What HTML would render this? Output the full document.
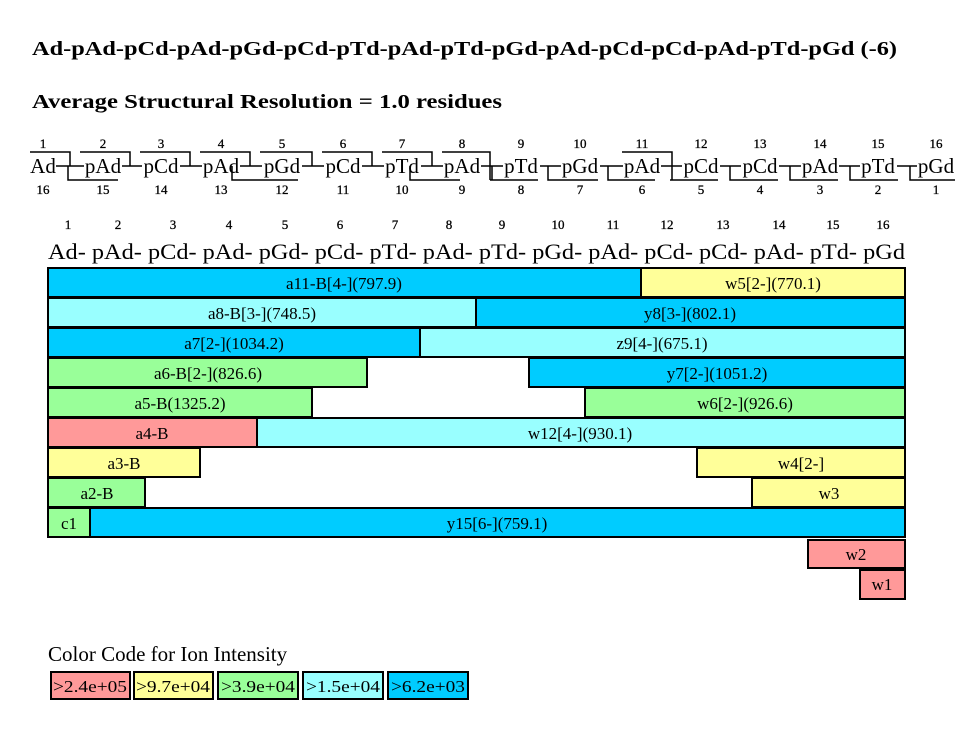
<!DOCTYPE html>
<html><head><meta charset="utf-8"><style>
html,body{margin:0;padding:0;background:#fff;}
svg{display:block;font-family:"Liberation Serif",serif;}
</style></head><body>
<svg width="980" height="736" viewBox="0 0 980 736" xmlns="http://www.w3.org/2000/svg">
<text x="32" y="55" font-size="20" font-weight="bold" textLength="865" lengthAdjust="spacingAndGlyphs">Ad-pAd-pCd-pAd-pGd-pCd-pTd-pAd-pTd-pGd-pAd-pCd-pCd-pAd-pTd-pGd (-6)</text>
<text x="32" y="108" font-size="20" font-weight="bold" textLength="470" lengthAdjust="spacingAndGlyphs">Average Structural Resolution = 1.0 residues</text>

<g font-size="21" text-anchor="middle">
<text x="43" y="173">Ad</text><text x="103" y="173">pAd</text><text x="161" y="173">pCd</text><text x="221" y="173">pAd</text>
<text x="282" y="173">pGd</text><text x="343" y="173">pCd</text><text x="402" y="173">pTd</text><text x="462" y="173">pAd</text>
<text x="521" y="173">pTd</text><text x="580" y="173">pGd</text><text x="642" y="173">pAd</text><text x="701" y="173">pCd</text>
<text x="760" y="173">pCd</text><text x="820" y="173">pAd</text><text x="878" y="173">pTd</text><text x="936" y="173">pGd</text>
</g>
<g font-size="13" text-anchor="middle" stroke="#000" stroke-width="0.3">
<text x="43" y="148">1</text><text x="103" y="148">2</text><text x="161" y="148">3</text><text x="221" y="148">4</text>
<text x="282" y="148">5</text><text x="343" y="148">6</text><text x="402" y="148">7</text><text x="462" y="148">8</text>
<text x="521" y="148">9</text><text x="580" y="148">10</text><text x="642" y="148">11</text><text x="701" y="148">12</text>
<text x="760" y="148">13</text><text x="820" y="148">14</text><text x="878" y="148">15</text><text x="936" y="148">16</text>
<text x="43" y="194">16</text><text x="103" y="194">15</text><text x="161" y="194">14</text><text x="221" y="194">13</text>
<text x="282" y="194">12</text><text x="343" y="194">11</text><text x="402" y="194">10</text><text x="462" y="194">9</text>
<text x="521" y="194">8</text><text x="580" y="194">7</text><text x="642" y="194">6</text><text x="701" y="194">5</text>
<text x="760" y="194">4</text><text x="820" y="194">3</text><text x="878" y="194">2</text><text x="936" y="194">1</text>
</g>
<g stroke="#000" stroke-width="1.5" fill="none">
<path d="M56 166H84 M122 166H142 M180 166H202 M240 166H262 M302 166H324 M362 166H384 M421 166H443 M481 166H503 M540 166H561 M600 166H623 M661 166H682 M720 166H741 M779 166H801 M839 166H860 M897 166H917"/>
<path d="M30 152H70V166 M80 152H130V166 M140 152H190V166 M200 152H250V166 M260 152H312V166 M322 152H372V166 M382 152H432V166 M442 152H490V180"/>
<path d="M622 152H672V180"/>
<path d="M68 166V180H118 M232 166V180H298 M410 166V180H460 M490 180H538 M492 166V180 M548 166V180H598 M608 166V180H655 M670 180H718 M730 166V180H778 M790 166V180H838 M850 166V180H898 M910 166V180H955"/>
</g>

<g font-size="13" text-anchor="middle" stroke="#000" stroke-width="0.3">
<text x="68" y="229">1</text><text x="118" y="229">2</text><text x="173" y="229">3</text><text x="229" y="229">4</text>
<text x="285" y="229">5</text><text x="340" y="229">6</text><text x="395" y="229">7</text><text x="449" y="229">8</text>
<text x="502" y="229">9</text><text x="558" y="229">10</text><text x="613" y="229">11</text><text x="667" y="229">12</text>
<text x="723" y="229">13</text><text x="779" y="229">14</text><text x="833" y="229">15</text><text x="883" y="229">16</text>
</g>
<text x="48" y="259" font-size="22" textLength="857" lengthAdjust="spacingAndGlyphs">Ad- pAd- pCd- pAd- pGd- pCd- pTd- pAd- pTd- pGd- pAd- pCd- pCd- pAd- pTd- pGd</text>

<g stroke="#000" stroke-width="2">
<rect x="48" y="268" width="593" height="29" fill="#00ccff"/><rect x="641" y="268" width="264" height="29" fill="#ffff99"/>
<rect x="48" y="298" width="428" height="29" fill="#99ffff"/><rect x="476" y="298" width="429" height="29" fill="#00ccff"/>
<rect x="48" y="328" width="372" height="29" fill="#00ccff"/><rect x="420" y="328" width="485" height="29" fill="#99ffff"/>
<rect x="48" y="358" width="319" height="29" fill="#99ff99"/><rect x="529" y="358" width="376" height="29" fill="#00ccff"/>
<rect x="48" y="388" width="264" height="29" fill="#99ff99"/><rect x="585" y="388" width="320" height="29" fill="#99ff99"/>
<rect x="48" y="418" width="209" height="29" fill="#ff9999"/><rect x="257" y="418" width="648" height="29" fill="#99ffff"/>
<rect x="48" y="448" width="152" height="29" fill="#ffff99"/><rect x="697" y="448" width="208" height="29" fill="#ffff99"/>
<rect x="48" y="478" width="97" height="29" fill="#99ff99"/><rect x="752" y="478" width="153" height="29" fill="#ffff99"/>
<rect x="48" y="508" width="42" height="29" fill="#99ff99"/><rect x="90" y="508" width="815" height="29" fill="#00ccff"/>
<rect x="808" y="540" width="97" height="28" fill="#ff9999"/>
<rect x="860" y="570" width="45" height="29" fill="#ff9999"/>
</g>
<g font-size="17" text-anchor="middle">
<text x="344" y="289">a11-B[4-](797.9)</text><text x="773" y="289">w5[2-](770.1)</text>
<text x="262" y="319">a8-B[3-](748.5)</text><text x="690" y="319">y8[3-](802.1)</text>
<text x="234" y="349">a7[2-](1034.2)</text><text x="662" y="349">z9[4-](675.1)</text>
<text x="208" y="379">a6-B[2-](826.6)</text><text x="717" y="379">y7[2-](1051.2)</text>
<text x="180" y="409">a5-B(1325.2)</text><text x="745" y="409">w6[2-](926.6)</text>
<text x="152" y="439">a4-B</text><text x="580" y="439">w12[4-](930.1)</text>
<text x="124" y="469">a3-B</text><text x="801" y="469">w4[2-]</text>
<text x="97" y="499">a2-B</text><text x="829" y="499">w3</text>
<text x="69" y="529">c1</text><text x="497" y="529">y15[6-](759.1)</text>
<text x="856" y="560">w2</text>
<text x="882" y="590">w1</text>
</g>

<text x="48" y="661" font-size="21">Color Code for Ion Intensity</text>
<g stroke="#000" stroke-width="2">
<rect x="51" y="672" width="79" height="27" fill="#ff9999"/>
<rect x="134" y="672" width="79" height="27" fill="#ffff99"/>
<rect x="218" y="672" width="80" height="27" fill="#99ff99"/>
<rect x="303" y="672" width="80" height="27" fill="#99ffff"/>
<rect x="388" y="672" width="80" height="27" fill="#00ccff"/>
</g>
<g font-size="17" text-anchor="middle">
<text x="90" y="692" textLength="74" lengthAdjust="spacingAndGlyphs">&gt;2.4e+05</text><text x="173" y="692" textLength="74" lengthAdjust="spacingAndGlyphs">&gt;9.7e+04</text><text x="258" y="692" textLength="74" lengthAdjust="spacingAndGlyphs">&gt;3.9e+04</text>
<text x="343" y="692" textLength="74" lengthAdjust="spacingAndGlyphs">&gt;1.5e+04</text><text x="428" y="692" textLength="74" lengthAdjust="spacingAndGlyphs">&gt;6.2e+03</text>
</g>
</svg>
</body></html>
